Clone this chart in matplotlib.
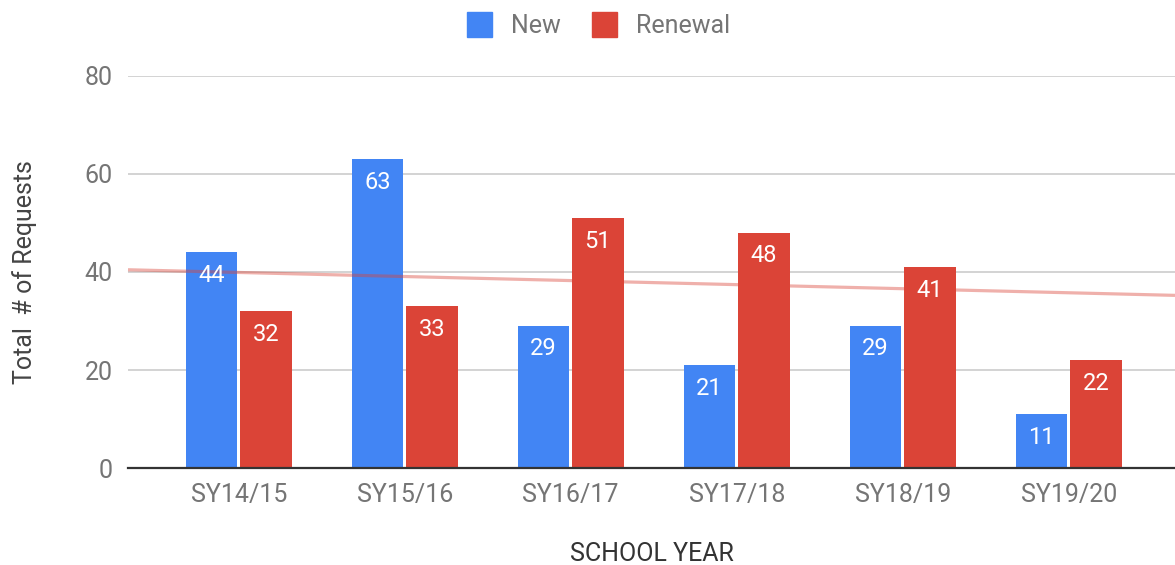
import numpy as np
import matplotlib
matplotlib.use('Agg')

import matplotlib.pyplot as plt
from matplotlib.lines import Line2D

BLUE = '#4285F4'
RED = '#DB4437'
TICK_GRAY = '#757575'
FS = 18

years = ['SY14/15', 'SY15/16', 'SY16/17', 'SY17/18', 'SY18/19', 'SY19/20']
new_requests = [44, 63, 29, 21, 29, 11]
renewal_requests = [32, 33, 51, 48, 41, 22]

plt.rcParams['font.family'] = ['Roboto', 'DejaVu Sans']


def plot(dest):
    fig = plt.figure(figsize=(11.75, 5.65), dpi=100)
    ax = fig.add_axes([128 / 1175, 97 / 565, 1047 / 1175, 392 / 565])

    x = np.arange(len(years))
    width = 0.31
    off = 0.164
    b1 = ax.bar(x - off, new_requests, width, color=BLUE, zorder=2)
    b2 = ax.bar(x + off, renewal_requests, width, color=RED, zorder=2)

    xmin, xmax = -0.667, 5.64
    ax.set_xlim(xmin, xmax)
    ax.set_ylim(0, 80)

    # linear trendline of the renewal series
    slope, icpt = np.polyfit(x, renewal_requests, 1)
    tx = np.array([xmin, xmax])
    ax.plot(tx, icpt + slope * tx, color=RED, alpha=0.42, lw=2.3,
            zorder=3, solid_capstyle='butt', clip_on=False)

    for bars in (b1, b2):
        for b in bars:
            ax.annotate(str(int(b.get_height())),
                        (b.get_x() + b.get_width() / 2, b.get_height()),
                        xytext=(0, -16.5), textcoords='offset points',
                        ha='center', va='center', color='white',
                        fontsize=17, zorder=4)

    ax.set_yticks([0, 20, 40, 60, 80])
    ax.set_xticks(x)
    ax.set_xticklabels(years)
    ax.yaxis.grid(True, color='#cccccc', lw=1.2, zorder=0)
    ax.set_axisbelow(True)
    ax.tick_params(axis='both', length=0, labelsize=FS, colors=TICK_GRAY,
                   pad=11)
    for s in ('top', 'right', 'left'):
        ax.spines[s].set_visible(False)
    ax.spines['bottom'].set_color('#333333')
    ax.spines['bottom'].set_linewidth(1.6)
    ax.spines['bottom'].set_zorder(5)

    ax.set_xlabel('SCHOOL YEAR', fontsize=FS, color='#333333', labelpad=25)
    ax.set_ylabel('Total  # of Requests', fontsize=FS, color='#444444',
                  labelpad=34)

    handles = [Line2D([], [], ls='', marker='s', ms=18, color=BLUE),
               Line2D([], [], ls='', marker='s', ms=18, color=RED)]
    fig.legend(handles, ['New', 'Renewal'], loc='center',
               bbox_to_anchor=(592 / 1175, 1 - 26 / 565), ncol=2,
               frameon=False, fontsize=FS, labelcolor=TICK_GRAY,
               handletextpad=0.3, columnspacing=0.7)

    fig.savefig(dest, dpi=100)
    plt.close(fig)


if __name__ == '__main__':
    plot('out.png')
